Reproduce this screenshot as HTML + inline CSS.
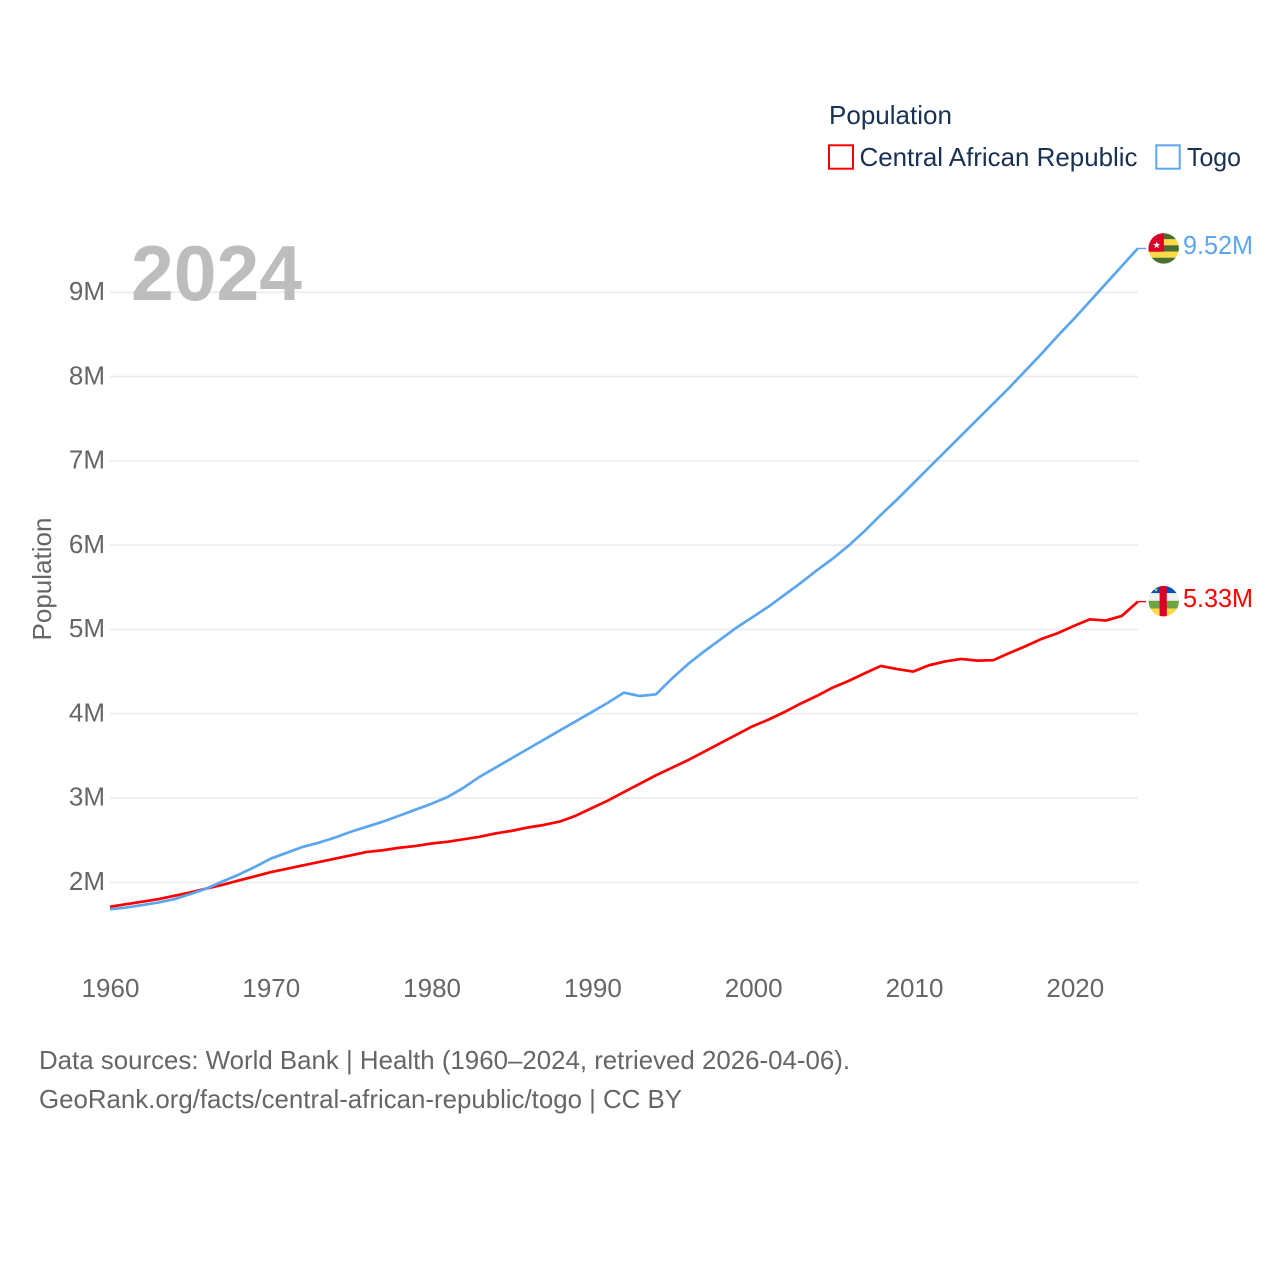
<!DOCTYPE html>
<html lang="en">
<head>
<meta charset="utf-8">
<title>Population: Central African Republic and Togo</title>
<style>
html,body{margin:0;padding:0;background:#fff;width:1280px;height:1280px;overflow:hidden}
svg{display:block}
text{font-family:"Liberation Sans",sans-serif}
</style>
</head>
<body>
<svg id="chart" xmlns="http://www.w3.org/2000/svg" width="1280" height="1280" viewBox="0 0 1280 1280">
  <defs>
    <clipPath id="togo-clip"><circle cx="1163.7" cy="248.4" r="15.2"/></clipPath>
    <clipPath id="car-clip"><circle cx="1163.7" cy="601.2" r="15.2"/></clipPath>
  </defs>
  <rect x="0" y="0" width="1280" height="1280" fill="#fff"/>
  <g id="grid"></g>
  <g id="yticks"></g>
  <g id="xticks"></g>
  <text x="131" y="300" font-size="78" font-weight="700" fill="#bdbdbd" textLength="171" lengthAdjust="spacingAndGlyphs">2024</text>
  <text transform="translate(51,579) rotate(-90)" text-anchor="middle" font-size="26" fill="#666" textLength="123" lengthAdjust="spacingAndGlyphs">Population</text>
  <g id="series"></g>

  <g clip-path="url(#togo-clip)">
    <rect x="1148" y="232" width="32" height="7.3" fill="#496e2d"/>
    <rect x="1148" y="239.3" width="32" height="6" fill="#ffda44"/>
    <rect x="1148" y="245.3" width="32" height="6.4" fill="#496e2d"/>
    <rect x="1148" y="251.7" width="32" height="6" fill="#ffda44"/>
    <rect x="1148" y="257.7" width="32" height="7.3" fill="#496e2d"/>
    <rect x="1148" y="232" width="15.8" height="19.7" fill="#d80027"/>
    <polygon points="1156.7,241.2 1157.6,243.9 1160.4,243.9 1158.1,245.6 1159,248.3 1156.7,246.6 1154.4,248.3 1155.3,245.6 1153,243.9 1155.8,243.9" fill="#f0f0f0"/>
  </g>
  <g clip-path="url(#car-clip)">
    <rect x="1148" y="585" width="32" height="8.2" fill="#0052b4"/>
    <rect x="1148" y="593.2" width="32" height="7.6" fill="#f0f0f0"/>
    <rect x="1148" y="600.8" width="32" height="7.7" fill="#6da544"/>
    <rect x="1148" y="608.5" width="32" height="9" fill="#ffda44"/>
    <rect x="1159.6" y="585" width="7.2" height="33" fill="#d80027"/>
    <polygon points="1156,588.2 1156.5,589.4 1157.8,589.4 1156.8,590.2 1157.2,591.5 1156,590.7 1154.8,591.5 1155.2,590.2 1154.2,589.4 1155.5,589.4" fill="#ffda44"/>
  </g>
  <text x="1183" y="254" font-size="26" fill="#5ba6ee" textLength="70" lengthAdjust="spacingAndGlyphs">9.52M</text>
  <text x="1183" y="607" font-size="26" fill="#ff0000" textLength="70" lengthAdjust="spacingAndGlyphs">5.33M</text>

  <g>
    <text x="829" y="124" font-size="26" fill="#183153" textLength="123" lengthAdjust="spacingAndGlyphs">Population</text>
    <g>
      <rect x="829" y="145.3" width="24" height="23.4" fill="none" stroke="#ff0000" stroke-width="2"/>
      <text x="859.5" y="166" font-size="26" fill="#183153" textLength="278" lengthAdjust="spacingAndGlyphs">Central African Republic</text>
    </g>
    <g>
      <rect x="1156.3" y="145.3" width="23.4" height="23.4" fill="none" stroke="#5ba6ee" stroke-width="2"/>
      <text x="1187" y="166" font-size="26" fill="#183153" textLength="54" lengthAdjust="spacingAndGlyphs">Togo</text>
    </g>
  </g>

  <text x="39" y="1069" font-size="26" fill="#666" textLength="811" lengthAdjust="spacingAndGlyphs">Data sources: World Bank | Health (1960–2024, retrieved 2026-04-06).</text>
  <text x="39" y="1108" font-size="26" fill="#666" textLength="643" lengthAdjust="spacingAndGlyphs">GeoRank.org/facts/central-african-republic/togo | CC BY</text>
</svg>
<script>
const years = [1960,1961,1962,1963,1964,1965,1966,1967,1968,1969,1970,1971,1972,1973,1974,1975,1976,1977,1978,1979,1980,1981,1982,1983,1984,1985,1986,1987,1988,1989,1990,1991,1992,1993,1994,1995,1996,1997,1998,1999,2000,2001,2002,2003,2004,2005,2006,2007,2008,2009,2010,2011,2012,2013,2014,2015,2016,2017,2018,2019,2020,2021,2022,2023,2024];
const togoValues = [1.68,1.70,1.73,1.76,1.80,1.86,1.925,2.01,2.09,2.18,2.28,2.35,2.42,2.47,2.53,2.60,2.66,2.72,2.79,2.86,2.93,3.01,3.12,3.25,3.36,3.47,3.58,3.69,3.80,3.91,4.02,4.13,4.25,4.21,4.23,4.42,4.59,4.74,4.88,5.02,5.145,5.27,5.41,5.55,5.70,5.84,5.995,6.17,6.36,6.54,6.73,6.92,7.11,7.30,7.49,7.68,7.87,8.07,8.27,8.48,8.68,8.89,9.10,9.31,9.52];
const carValues = [1.71,1.74,1.77,1.80,1.84,1.88,1.925,1.97,2.02,2.07,2.12,2.16,2.20,2.24,2.28,2.32,2.36,2.38,2.41,2.43,2.46,2.48,2.51,2.54,2.58,2.61,2.65,2.68,2.72,2.79,2.88,2.97,3.07,3.17,3.27,3.36,3.45,3.55,3.65,3.75,3.85,3.93,4.02,4.12,4.21,4.31,4.39,4.48,4.567,4.53,4.50,4.575,4.62,4.65,4.63,4.635,4.72,4.80,4.887,4.955,5.04,5.12,5.105,5.16,5.33];
const yTickValues = [2,3,4,5,6,7,8,9];
const yTickLabels = ["2M","3M","4M","5M","6M","7M","8M","9M"];
const xTickValues = [1960,1970,1980,1990,2000,2010,2020];
const xTickLabels = ["1960","1970","1980","1990","2000","2010","2020"];

const NS = "http://www.w3.org/2000/svg";
function xScale(year){ return 110 + (year - 1960) * 16.06; }
function yScale(value){ return 882.3 - (value - 2) * 84.29; }

const gridGroup = document.getElementById("grid");
const yTickGroup = document.getElementById("yticks");
const xTickGroup = document.getElementById("xticks");
const seriesGroup = document.getElementById("series");

yTickValues.forEach(function(v, i){
  const line = document.createElementNS(NS, "line");
  
  
  line.setAttribute("x1", 110);
  line.setAttribute("x2", 1138);
  line.setAttribute("y1", yScale(v));
  line.setAttribute("y2", yScale(v));
  line.setAttribute("stroke", "#ececec");
  line.setAttribute("stroke-width", "1.6");
  gridGroup.appendChild(line);

  const label = document.createElementNS(NS, "text");
  
  
  label.setAttribute("x", 105);
  label.setAttribute("y", yScale(v) + 7.7);
  label.setAttribute("text-anchor", "end");
  label.setAttribute("font-size", "26");
  label.setAttribute("fill", "#666");
  label.textContent = yTickLabels[i];
  yTickGroup.appendChild(label);
});

xTickValues.forEach(function(v, i){
  const label = document.createElementNS(NS, "text");
  
  
  label.setAttribute("x", 110.5 + (v - 1960) * 16.08);
  label.setAttribute("y", 997);
  label.setAttribute("text-anchor", "middle");
  label.setAttribute("font-size", "26");
  label.setAttribute("fill", "#666");
  label.textContent = xTickLabels[i];
  xTickGroup.appendChild(label);
});

function linePath(values){
  return values.map(function(v, i){
    return (i ? "L" : "M") + xScale(years[i]).toFixed(2) + " " + yScale(v).toFixed(2);
  }).join(" ");
}
function connectorPath(values){
  const last = values.length - 1;
  const y = yScale(values[last]).toFixed(2);
  return "M" + xScale(years[last]).toFixed(2) + " " + y + " L1146 " + y;
}

const carLine = document.createElementNS(NS, "path");


carLine.setAttribute("d", linePath(carValues));
carLine.setAttribute("fill", "none");
carLine.setAttribute("stroke", "#ff0000");
carLine.setAttribute("stroke-width", "2.7");
carLine.setAttribute("stroke-linejoin", "round");
seriesGroup.appendChild(carLine);

const togoLine = document.createElementNS(NS, "path");


togoLine.setAttribute("d", linePath(togoValues));
togoLine.setAttribute("fill", "none");
togoLine.setAttribute("stroke", "#5ba6ee");
togoLine.setAttribute("stroke-width", "2.7");
togoLine.setAttribute("stroke-linejoin", "round");
seriesGroup.appendChild(togoLine);

const carConnector = document.createElementNS(NS, "path");


carConnector.setAttribute("d", connectorPath(carValues));
carConnector.setAttribute("fill", "none");
carConnector.setAttribute("stroke", "#ff0000");
carConnector.setAttribute("stroke-width", "1.4");
seriesGroup.appendChild(carConnector);

const togoConnector = document.createElementNS(NS, "path");


togoConnector.setAttribute("d", connectorPath(togoValues));
togoConnector.setAttribute("fill", "none");
togoConnector.setAttribute("stroke", "#5ba6ee");
togoConnector.setAttribute("stroke-width", "1.4");
seriesGroup.appendChild(togoConnector);
</script>
</body>
</html>
